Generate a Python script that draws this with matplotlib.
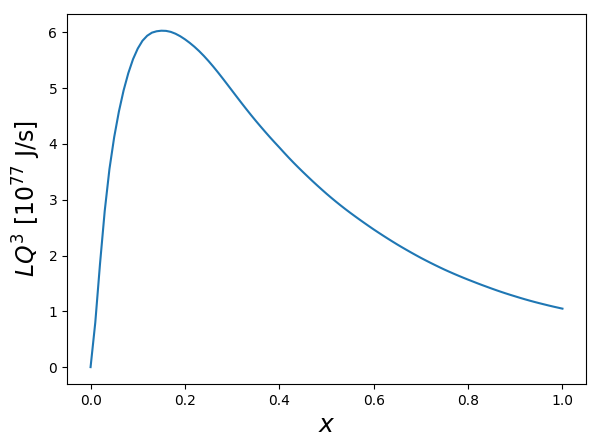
import numpy as np
from matplotlib import pyplot as plt

# x grid and luminosity values
x = np.linspace(0, 1, 101)
LQ3 = [0.000, 0.800, 1.850, 2.800, 3.550, 4.120, 4.580, 4.960, 5.270, 5.520,
       5.710, 5.850, 5.940, 5.995, 6.020, 6.030, 6.027, 6.009, 5.976, 5.931,
       5.876, 5.813, 5.743, 5.665, 5.579, 5.486, 5.387, 5.283, 5.175, 5.065,
       4.954, 4.843, 4.733, 4.625, 4.519, 4.416, 4.316, 4.218, 4.122, 4.029,
       3.938, 3.845, 3.754, 3.666, 3.581, 3.498, 3.417, 3.337, 3.259, 3.183,
       3.108, 3.036, 2.966, 2.898, 2.832, 2.768, 2.706, 2.645, 2.585, 2.526,
       2.468, 2.412, 2.357, 2.303, 2.250, 2.198, 2.148, 2.099, 2.051, 2.004,
       1.958, 1.914, 1.871, 1.829, 1.788, 1.748, 1.710, 1.673, 1.637, 1.602,
       1.568, 1.535, 1.502, 1.470, 1.439, 1.408, 1.378, 1.349, 1.321, 1.294,
       1.268, 1.242, 1.217, 1.193, 1.170, 1.148, 1.127, 1.106, 1.086, 1.067,
       1.048]

fig = plt.figure(figsize=(5.98, 4.48), dpi=100)
ax = fig.add_axes([0.112, 0.143, 0.868, 0.826])
ax.plot(x, LQ3)
ax.set_xlabel(r'$x$', fontsize=18)
ax.set_ylabel(r'$LQ^3$ [$10^{77}$ J/s]', fontsize=17)
fig.savefig('out.png')
